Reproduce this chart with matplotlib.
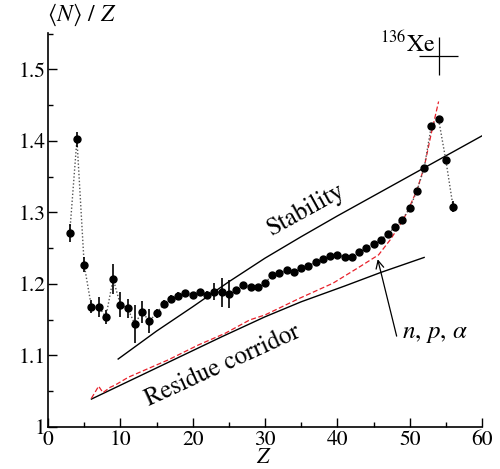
import numpy as np
import matplotlib.pyplot as plt
from matplotlib.ticker import MultipleLocator, FuncFormatter

plt.rcParams['font.family'] = ['STIXGeneral', 'Liberation Serif', 'DejaVu Serif']
plt.rcParams['mathtext.fontset'] = 'stix'

# measured <N>/Z of the residues vs Z
z = np.arange(3, 57)
n_over_z = [1.271, 1.402, 1.227, 1.168, 1.168, 1.154, 1.207, 1.171, 1.166, 1.144,
            1.161, 1.148, 1.159, 1.172, 1.179, 1.183, 1.187, 1.184, 1.188, 1.185,
            1.189, 1.188, 1.186, 1.192, 1.198, 1.196, 1.195, 1.201, 1.213, 1.215,
            1.219, 1.217, 1.222, 1.225, 1.231, 1.235, 1.239, 1.241, 1.237, 1.238,
            1.244, 1.250, 1.256, 1.262, 1.270, 1.280, 1.290, 1.306, 1.330, 1.362,
            1.421, 1.430, 1.373, 1.308]
err = [0.013, 0.011, 0.011, 0.009, 0.014, 0.010, 0.021, 0.017, 0.013, 0.026,
       0.015, 0.017, 0.006, 0.005, 0.005, 0.005, 0.005, 0.005, 0.005, 0.005,
       0.012, 0.020, 0.019, 0.004, 0.004, 0.004, 0.004, 0.004, 0.004, 0.004,
       0.004, 0.004, 0.004, 0.004, 0.004, 0.004, 0.004, 0.004, 0.004, 0.004,
       0.004, 0.004, 0.004, 0.004, 0.004, 0.004, 0.004, 0.004, 0.004, 0.004,
       0.004, 0.004, 0.004, 0.008]

# line of beta stability
stab_z = [9.7, 15, 20, 25, 30, 35, 40, 45, 50, 55, 60]
stab_v = [1.095, 1.134, 1.168, 1.203, 1.236, 1.266, 1.295, 1.323, 1.351, 1.379, 1.407]

# residue corridor
corr_z = [6, 12, 18, 24, 30, 35, 41, 46, 52]
corr_v = [1.039, 1.068, 1.097, 1.126, 1.154, 1.175, 1.197, 1.216, 1.237]

# evaporation calculation (n, p, alpha)
evap_z = [6.0, 7.0, 7.6, 8.6, 9.3, 11.1, 13.2, 16.6, 20.8, 24.5, 27.9, 30.0,
          34.8, 39.4, 43.1, 45.7, 47.3, 48.5, 49.6, 51.0, 52.0, 53.0, 54.0]
evap_v = [1.040, 1.057, 1.048, 1.0555, 1.0587, 1.0695, 1.0788, 1.0937, 1.1147,
          1.131, 1.1497, 1.1566, 1.180, 1.201, 1.224, 1.2406, 1.2615, 1.280,
          1.299, 1.331, 1.363, 1.411, 1.455]

# projectile 136Xe
xe_z, xe_v = 54, 82 / 54

fig = plt.figure(figsize=(5, 4.69), dpi=100)
ax = fig.add_axes([0.096, 0.0896, 0.868, 0.8404])

ax.plot(stab_z, stab_v, color='black', lw=1.0)
ax.plot(corr_z, corr_v, color='black', lw=1.0)
ax.plot(evap_z, evap_v, color='#e8202a', lw=0.9, ls=(0, (4, 2)))

ax.plot(z, n_over_z, ls=(0, (1, 1.5)), color='#555555', lw=1.0)
ax.errorbar(z, n_over_z, yerr=err, fmt='o', color='black', ms=5,
            elinewidth=1.2, capsize=0)

ax.errorbar([xe_z], [xe_v], xerr=[2.7], yerr=[0.027], fmt='none',
            color='black', elinewidth=0.9, capsize=0)
ax.text(53.5, 1.5245, r'$^{136}$Xe', fontsize=17, ha='right', va='baseline')

ax.text(35.7, 1.3035, 'Stability', fontsize=18, rotation=29,
        ha='center', va='center')
ax.text(24.1, 1.0853, 'Residue corridor', fontsize=18, rotation=24.5,
        ha='center', va='center')
ax.text(48.9, 1.131, r'$n$, $p$, $\alpha$', fontsize=18, ha='left', va='center')
ax.annotate('', xy=(45.58, 1.2345), xytext=(48.2, 1.127),
            arrowprops=dict(arrowstyle='->', lw=0.9, color='black',
                            shrinkA=0, shrinkB=0, mutation_scale=14))

ax.set_xlim(0, 60)
ax.set_ylim(1, 1.551)
ax.spines['top'].set_visible(False)
ax.spines['right'].set_visible(False)
for s in ('left', 'bottom'):
    ax.spines[s].set_linewidth(1.2)

ax.xaxis.set_major_locator(MultipleLocator(10))
ax.xaxis.set_minor_locator(MultipleLocator(5))
ax.yaxis.set_major_locator(MultipleLocator(0.1))
ax.yaxis.set_minor_locator(MultipleLocator(0.05))
ax.yaxis.set_major_formatter(FuncFormatter(lambda v, p: f'{v:g}'))
ax.tick_params(which='both', direction='in', labelsize=15.5, width=1.0)
ax.tick_params(which='major', length=6.5)
ax.tick_params(which='minor', length=3.6)
ax.tick_params(axis='x', pad=2)
ax.tick_params(axis='y', pad=2)

# axis titles
fig.text(0.528, 0.012, '$Z$', fontsize=16, ha='center', va='baseline')
fig.text(0.094, 0.94, r'$\langle N\rangle$ / $Z$', fontsize=17,
         ha='left', va='bottom')

fig.savefig('out.png', dpi=100)
